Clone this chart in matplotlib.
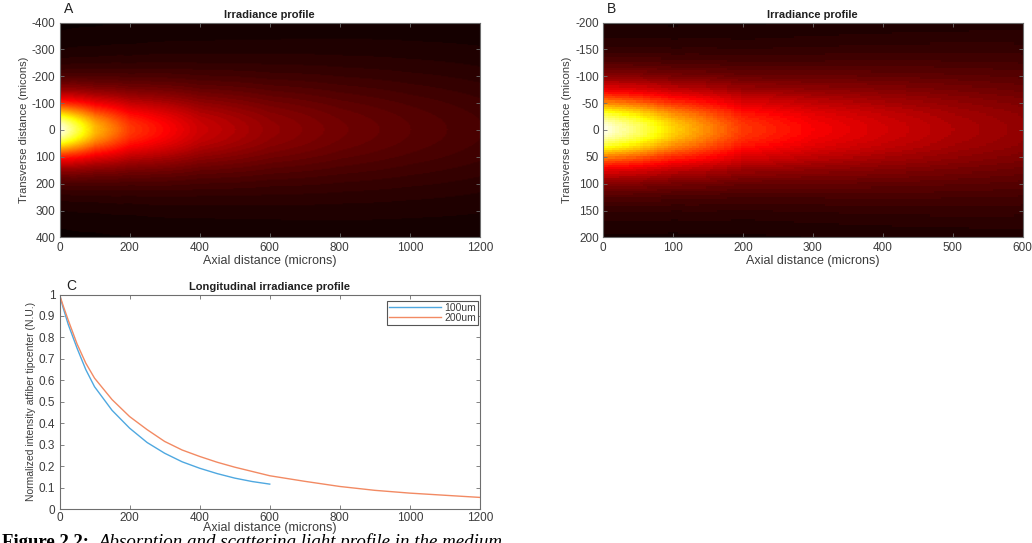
import numpy as np
import matplotlib
matplotlib.use("Agg")
import matplotlib.pyplot as plt
from matplotlib.colors import ListedColormap

# ---------------- data ----------------
# Panel C: longitudinal irradiance profiles
x_100 = [0, 10, 25, 50, 75, 100, 150, 200, 250, 300, 350, 400, 450, 500, 550, 600]
y_100 = [1.0, 0.94, 0.86, 0.75, 0.65, 0.57, 0.46, 0.377, 0.31, 0.26, 0.22, 0.19, 0.165, 0.144, 0.128, 0.116]
x_200 = [0, 10, 25, 50, 75, 100, 150, 200, 250, 300, 350, 400, 450, 500, 600,
         700, 800, 900, 1000, 1100, 1200]
y_200 = [1.0, 0.95, 0.88, 0.77, 0.68, 0.61, 0.51, 0.431, 0.37, 0.315, 0.275, 0.245, 0.218, 0.195, 0.155,
         0.129, 0.105, 0.087, 0.074, 0.064, 0.054]
labels_C = ["100um", "200um"]

axial_A = [0, 100, 200, 400, 600, 800, 1000, 1200]
center_A = [0.97, 0.64, 0.45, 0.29, 0.21, 0.16, 0.125, 0.095]
width_A = [140, 165, 190, 230, 265, 300, 330, 360]

axial_B = [0, 50, 100, 200, 300, 400, 500, 600]
center_B = [0.97, 0.84, 0.68, 0.45, 0.36, 0.30, 0.25, 0.21]
width_B = [90, 95, 100, 115, 130, 145, 160, 175]

xticks_A = [0, 200, 400, 600, 800, 1000, 1200]
yticks_A = [-400, -300, -200, -100, 0, 100, 200, 300, 400]
xticks_B = [0, 100, 200, 300, 400, 500, 600]
yticks_B = [-200, -150, -100, -50, 0, 50, 100, 150, 200]

# ---------------- figure ----------------
W, H = 1032, 543
plt.rcParams['axes.unicode_minus'] = False
fig = plt.figure(figsize=(W / 100, H / 100), dpi=100)
plt.rcParams['font.family'] = ['Liberation Sans', 'DejaVu Sans']

def ax_px(l, t, r, b):
    return fig.add_axes([l / W, 1 - b / H, (r - l) / W, (b - t) / H])

TXT = '#3c3c3c'
SPINE = '#6e6e6e'
hot64 = ListedColormap(plt.get_cmap('hot')(np.linspace(0, 1, 64)))

def style(ax):
    for s in ax.spines.values():
        s.set_color(SPINE)
        s.set_linewidth(0.8)
    ax.tick_params(direction='in', length=3, width=0.6, colors=SPINE,
                   labelcolor=TXT, labelsize=8.5, top=True, right=True, pad=3)

def heat(ax, axial, center, width, xmax, ymax, xstep, ystep, interp):
    xs = np.arange(0, xmax + xstep, xstep)
    ys = np.arange(-ymax, ymax + ystep, ystep)
    c = np.interp(xs, axial, center)
    a = np.interp(xs, axial, width)
    Z = c[None, :] / (1 + (ys[:, None] / a[None, :]) ** 2) ** 2
    ax.imshow(Z, cmap=hot64, vmin=0, vmax=1, aspect='auto',
              extent=[0 - xstep / 2, xmax + xstep / 2, ymax + ystep / 2, -ymax - ystep / 2],
              interpolation=interp)
    ax.set_xlim(0, xmax)
    ax.set_ylim(ymax, -ymax)

# Panel A
axA = ax_px(59.5, 22.5, 480, 237.5)
heat(axA, axial_A, center_A, width_A, 1200, 400, 4, 4, 'bilinear')
axA.set_xticks(xticks_A)
axA.set_yticks(yticks_A)
style(axA)
axA.set_title('Irradiance profile', fontsize=8, fontweight='bold', color='#202020', pad=3)
axA.set_xlabel('Axial distance (microns)', fontsize=9, color=TXT, labelpad=1)
axA.set_ylabel('Transverse distance (micons)', fontsize=8, color=TXT, labelpad=2)
fig.text(64 / W, 1 - 2 / H, 'A', fontsize=10, va='top', ha='left', color='#202020')

# Panel B
axB = ax_px(603, 22.5, 1022.5, 237.5)
heat(axB, axial_B, center_B, width_B, 600, 200, 5, 4, 'nearest')
axB.set_xticks(xticks_B)
axB.set_yticks(yticks_B)
style(axB)
axB.set_title('Irradiance profile', fontsize=8, fontweight='bold', color='#202020', pad=3)
axB.set_xlabel('Axial distance (microns)', fontsize=9, color=TXT, labelpad=1)
axB.set_ylabel('Transverse distance (micons)', fontsize=8, color=TXT, labelpad=2)
fig.text(607 / W, 1 - 2 / H, 'B', fontsize=10, va='top', ha='left', color='#202020')

# Panel C
axC = ax_px(59.5, 294.5, 480, 509)
axC.plot(x_100, y_100, color='#4fa8e0', lw=1.0, label=labels_C[0])
axC.plot(x_200, y_200, color='#f28a63', lw=1.0, label=labels_C[1])
axC.set_xlim(0, 1200)
axC.set_ylim(0, 1)
axC.set_xticks([0, 200, 400, 600, 800, 1000, 1200])
axC.set_yticks(np.round(np.arange(0, 1.01, 0.1), 1))
axC.set_yticklabels(['0', '0.1', '0.2', '0.3', '0.4', '0.5', '0.6', '0.7', '0.8', '0.9', '1'])
style(axC)
axC.tick_params(axis='x', pad=2)
axC.set_title('Longitudinal irradiance profile', fontsize=8, fontweight='bold', color='#202020', pad=3)
axC.set_xlabel('Axial distance (microns)', fontsize=9, color=TXT, labelpad=-1)
axC.set_ylabel('Normalized intensity atfiber tipcenter (N.U.)', fontsize=7.5, color=TXT, labelpad=2,
               family=['Liberation Sans Narrow', 'Liberation Sans', 'DejaVu Sans'])
fig.text(66 / W, 1 - 279 / H, 'C', fontsize=10, va='top', ha='left', color='#202020')
leg = axC.legend(loc='upper right', bbox_to_anchor=(1 - 2 / 420.5, 1 - 6 / 214.5), borderaxespad=0,
                 fontsize=7.5, handlelength=5.0, labelspacing=0.05, borderpad=0.2, handletextpad=0.3,
                 fancybox=False, framealpha=1, edgecolor='#555555')
leg.get_frame().set_linewidth(0.8)
for t in leg.get_texts():
    t.set_color(TXT)

# Caption (partly cut off by bottom of image)
cap_y = -4 / H
t1 = fig.text(2 / W, cap_y, 'Figure 2.2:', fontsize=13.5, fontweight='bold', va='baseline', ha='left',
              family=['Liberation Serif', 'DejaVu Serif'], color='black')
fig.canvas.draw()
bb = t1.get_window_extent(renderer=fig.canvas.get_renderer())
fig.text((bb.x1 + 9) / W, cap_y, 'Absorption and scattering light profile in the medium', fontsize=13.6,
         style='italic', va='baseline', ha='left', family=['Liberation Serif', 'DejaVu Serif'], color='black')

fig.savefig('out.png', dpi=100)
